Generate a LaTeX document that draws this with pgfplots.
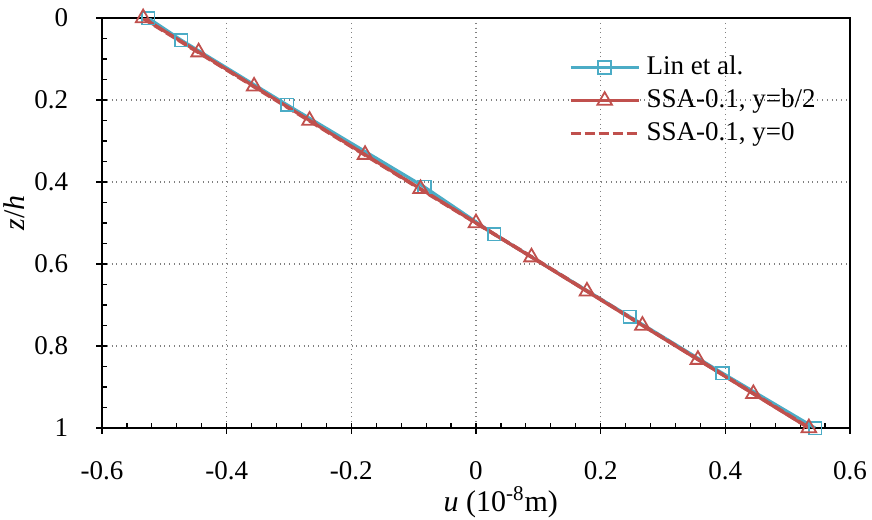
\documentclass[border=0pt]{standalone}
\usepackage{fontspec}
\setmainfont{Liberation Serif}
\usepackage{pgfplots}
\pgfplotsset{compat=1.18}
\definecolor{linc}{HTML}{4BACC6}
\definecolor{ssa}{HTML}{C0504D}
\definecolor{ssad}{HTML}{C0504D}
\begin{document}
\fontsize{13.5}{15}\selectfont
\begin{tikzpicture}
\begin{axis}[
  scale only axis,
  width=374pt, height=205pt,
  xmin=-0.6, xmax=0.6, ymin=0, ymax=1,
  y dir=reverse,
  xtick={-0.6,-0.4,-0.2,0,0.2,0.4,0.6},
  xticklabels={-0.6,-0.4,-0.2,0,0.2,0.4,0.6},
  ytick={0,0.2,0.4,0.6,0.8,1},
  yticklabels={0,0.2,0.4,0.6,0.8,1},
  minor x tick num=4,
  minor y tick num=3,
  tick align=center,
  major tick length=5.5pt,
  minor tick length=2.6pt,
  minor x tick style={yshift=1.3pt},
  minor y tick style={xshift=1.3pt},
  xtick pos=lower, ytick pos=left,
  tick style={black, line width=0.6pt},
  axis line style={black, line width=0.6pt},
  grid=major,
  major grid style={gray, dotted, line width=0.8pt},
  xticklabel style={anchor=center, yshift=-18.5pt},
  yticklabel style={anchor=east, xshift=-9.5pt},
  xlabel={\textit{u} (10\textsuperscript{-8}m)},
  ylabel={\textit{z}/\textit{h}},
  xlabel style={at={(axis description cs:0.533,-0.1805)}, anchor=center, font=\fontsize{15}{17}\selectfont},
  ylabel style={at={(axis description cs:-0.117,0.525)}, anchor=center, font=\fontsize{15}{17}\selectfont},
  legend cell align=left,
  legend image code/.code={\draw[mark repeat=2,mark phase=2,#1] plot coordinates {(0cm,0cm) (0.6cm,0cm) (1.2cm,0cm)};},
  legend style={draw=none, fill=none, inner sep=0pt, outer sep=0pt,
    at={(axis description cs:0.624,0.912)}, anchor=north west,
    row sep=3pt,
    /tikz/every odd column/.append style={column sep=2pt},
    nodes={text height=9pt, text depth=2.5pt, inner sep=1pt}},
]
\addplot[color=linc, line width=1.6pt, mark=square, mark size=3.2pt, mark options={line width=0.9pt, solid}] coordinates {
(-0.526,0) (-0.473,0.054) (-0.303,0.212) (-0.083,0.412) (0.029,0.527) (0.247,0.729) (0.395,0.866) (0.544,1)
};
\addplot[color=ssa, line width=1.6pt, mark=triangle, mark size=4.2pt, mark options={line width=0.9pt, solid}] coordinates {
(-0.534,0) (-0.445,0.0833) (-0.356,0.1667) (-0.267,0.25) (-0.178,0.3333) (-0.089,0.4167) (0,0.5) (0.089,0.5833) (0.178,0.6667) (0.267,0.75) (0.356,0.8333) (0.445,0.9167) (0.534,1)
};
\addplot[color=ssad, line width=1.8pt, dash pattern=on 5pt off 2pt] coordinates {
(-0.535,0) (-0.446,0.0833) (-0.357,0.1667) (-0.268,0.25) (-0.179,0.3333) (-0.090,0.4167) (0,0.5) (0.090,0.5833) (0.179,0.6667) (0.268,0.75) (0.357,0.8333) (0.446,0.9167) (0.535,1)
};
\legend{Lin et al., {SSA-0.1, y=b/2}, {SSA-0.1, y=0}}
\end{axis}
\pgfresetboundingbox
\path[use as bounding box] (-51pt,-45.5pt) rectangle (385pt,214pt);
\end{tikzpicture}
\end{document}
